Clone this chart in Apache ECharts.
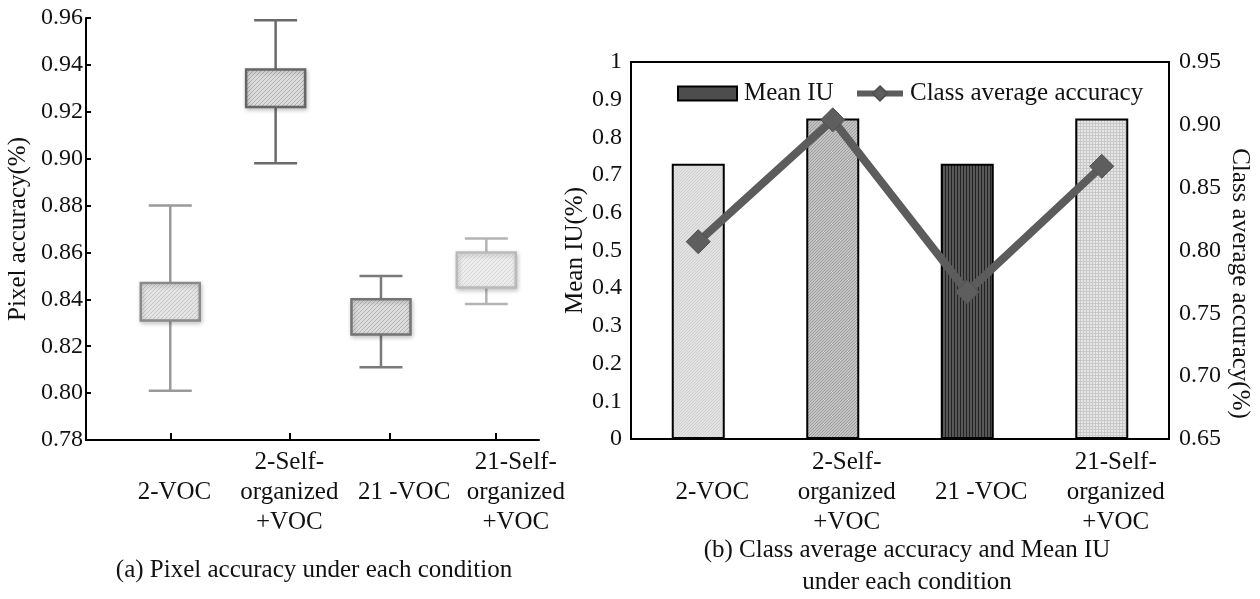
<!DOCTYPE html>
<html>
<head>
<meta charset="utf-8">
<script src="https://cdn.jsdelivr.net/npm/echarts@6/dist/echarts.min.js"></script>
<style>
  html, body { margin: 0; padding: 0; background: #fff; }
  #chart { width: 1260px; height: 599px; }
</style>
</head>
<body>
<div id="chart"></div>
<script>
// shared categories
const conditions = ['2-VOC', '2-Self-\norganized\n+VOC', '21 -VOC', '21-Self-\norganized\n+VOC']

// (a) pixel accuracy box plots
const pixMin = [0.801, 0.898, 0.811, 0.838]
const pixQ1 = [0.831, 0.922, 0.825, 0.845]
const pixQ3 = [0.847, 0.938, 0.840, 0.860]
const pixMax = [0.880, 0.959, 0.850, 0.866]
const pixTicks = [0.78, 0.80, 0.82, 0.84, 0.86, 0.88, 0.90, 0.92, 0.94, 0.96]

// (b) mean IU bars + class average accuracy line
const meanIU = [0.73, 0.85, 0.73, 0.85]
const classAcc = [0.807, 0.904, 0.767, 0.867]
const iuTicks = [0, 0.1, 0.2, 0.3, 0.4, 0.5, 0.6, 0.7, 0.8, 0.9, 1]
const accTicks = [0.65, 0.70, 0.75, 0.80, 0.85, 0.90, 0.95]

const FONT = "'Liberation Serif', 'Times New Roman', serif"

// small canvas tiles used as hatch fills
function pattern(bg, fg, kind, size) {
    const c = document.createElement('canvas')
    c.width = size
    c.height = size
    const g = c.getContext('2d')
    g.fillStyle = bg
    g.fillRect(0, 0, size, size)
    g.fillStyle = fg
    if (kind === 'diag') {
        for (let i = 0; i < size; i++) g.fillRect(i, size - 1 - i, 1, 1)
    } else if (kind === 'vert') {
        g.fillRect(0, 0, 1, size)
    } else if (kind === 'grid') {
        g.fillRect(0, 0, size, 1)
        g.fillRect(0, 0, 1, size)
    }
    return { image: c, repeat: 'repeat' }
}

const boxStyles = [
    { stroke: '#8a8a8a', whisker: '#9a9a9a', fill: pattern('#e4e4e4', '#c6c6c6', 'diag', 4) },
    { stroke: '#666666', whisker: '#6a6a6a', fill: pattern('#dcdcdc', '#b2b2b2', 'diag', 4) },
    { stroke: '#747474', whisker: '#7a7a7a', fill: pattern('#dcdcdc', '#b6b6b6', 'diag', 4) },
    { stroke: '#bababa', whisker: '#b4b4b4', fill: pattern('#ededed', '#d8d8d8', 'diag', 4) },
]

const barFills = [
    pattern('#e2e2e2', '#cfcfcf', 'diag', 3),
    pattern('#c4c4c4', '#9c9c9c', 'diag', 3),
    pattern('#585858', '#222222', 'vert', 3),
    pattern('#e6e6e6', '#c8c8c8', 'grid', 3),
]

// single-line labels get blank lines so all labels share one middle line
const labelText = (s) => (s && s.indexOf('\n') < 0 ? '\n' + s + '\n' : s)

function renderBox(params, api) {
    const i = api.value(0)
    const xc = api.coord([i, api.value(1)])[0]
    const yMin = api.coord([i, api.value(1)])[1]
    const yQ1 = api.coord([i, api.value(2)])[1]
    const yQ3 = api.coord([i, api.value(3)])[1]
    const yMax = api.coord([i, api.value(4)])[1]
    const st = boxStyles[params.dataIndex]
    const boxW = 59
    const capW = 43
    const line = (x1, y1, x2, y2) => ({
        type: 'line',
        shape: { x1, y1, x2, y2 },
        style: { stroke: st.whisker, lineWidth: 2.5 },
    })
    return {
        type: 'group',
        children: [
            line(xc, yMax, xc, yQ3),
            line(xc, yQ1, xc, yMin),
            line(xc - capW / 2, yMax, xc + capW / 2, yMax),
            line(xc - capW / 2, yMin, xc + capW / 2, yMin),
            {
                type: 'rect',
                shape: { x: xc - boxW / 2, y: yQ3, width: boxW, height: yQ1 - yQ3 },
                style: {
                    fill: st.fill,
                    stroke: st.stroke,
                    lineWidth: 2.5,
                    shadowBlur: 4,
                    shadowColor: 'rgba(0,0,0,0.2)',
                    shadowOffsetX: 1,
                    shadowOffsetY: 2,
                },
            },
        ],
    }
}

const chart = echarts.init(document.getElementById('chart'))

const axisLineBlack = { show: true, onZero: false, lineStyle: { color: '#000', width: 2 } }

const option = {
    backgroundColor: '#fff',
    textStyle: { fontFamily: FONT, color: '#111' },
    title: [
        {
            text: '(a) Pixel accuracy under each condition',
            left: 309,
            top: 553,
            textAlign: 'center',
            textStyle: { fontFamily: FONT, fontSize: 25, fontWeight: 'normal', color: '#111' },
        },
        {
            text: '(b) Class average accuracy and Mean IU\nunder each condition',
            left: 902,
            top: 529,
            textAlign: 'center',
            textStyle: { fontFamily: FONT, fontSize: 25, fontWeight: 'normal', color: '#111', lineHeight: 32 },
        },
    ],
    legend: [
        {
            data: ['Mean IU'],
            left: 672,
            top: 76,
            icon: 'rect',
            itemWidth: 59,
            itemHeight: 14,
            selectedMode: false,
            textStyle: { fontFamily: FONT, fontSize: 25, color: '#111', padding: [0, 0, 0, 2] },
        },
        {
            data: ['Class average accuracy'],
            left: 849,
            top: 76,
            itemWidth: 46,
            itemHeight: 18,
            selectedMode: false,
            lineStyle: { width: 6 },
            textStyle: { fontFamily: FONT, fontSize: 25, color: '#111', padding: [0, 0, 0, 2] },
        },
    ],
    grid: [
        { left: 86, top: 18, width: 453, height: 422 },
        { left: 631, top: 62, width: 538, height: 377, show: true, borderColor: '#000', borderWidth: 2 },
    ],
    xAxis: [
        {
            type: 'value',
            gridIndex: 0,
            min: -0.8,
            max: 3.5,
            axisLine: axisLineBlack,
            splitLine: { show: false },
            axisTick: {
                inside: true,
                length: 7,
                lineStyle: { color: '#000', width: 2 },
                customValues: [0, 1.13, 2.08, 3.09],
            },
            axisLabel: {
                customValues: [0.04, 1.13, 2.22, 3.28],
                formatter: (v) => labelText(conditions[Math.round(v)]),
                fontFamily: FONT,
                fontSize: 25,
                color: '#111',
                lineHeight: 30,
                margin: 7,
            },
        },
        {
            type: 'category',
            gridIndex: 1,
            data: conditions,
            axisLine: axisLineBlack,
            axisTick: { show: false },
            axisLabel: {
                formatter: labelText,
                fontFamily: FONT,
                fontSize: 25,
                color: '#111',
                lineHeight: 30,
                margin: 8,
                padding: [0, 0, 0, 28],
                interval: 0,
            },
        },
    ],
    yAxis: [
        {
            type: 'value',
            gridIndex: 0,
            min: pixTicks[0],
            max: pixTicks[pixTicks.length - 1],
            interval: 0.02,
            name: 'Pixel accuracy(%)',
            nameLocation: 'middle',
            nameGap: 55,
            nameTextStyle: { fontFamily: FONT, fontSize: 25, color: '#111' },
            axisLine: axisLineBlack,
            axisTick: { inside: true, length: 5, lineStyle: { color: '#000', width: 2 } },
            splitLine: { show: false },
            axisLabel: {
                formatter: (v) => v.toFixed(2),
                fontFamily: FONT,
                fontSize: 24,
                color: '#111',
                margin: 3,
            },
        },
        {
            type: 'value',
            gridIndex: 1,
            position: 'left',
            min: iuTicks[0],
            max: iuTicks[iuTicks.length - 1],
            interval: 0.1,
            name: 'Mean IU(%)',
            nameLocation: 'middle',
            nameGap: 43,
            nameTextStyle: { fontFamily: FONT, fontSize: 25, color: '#111' },
            axisLine: axisLineBlack,
            axisTick: { inside: true, length: 7, lineStyle: { color: '#000', width: 2 } },
            splitLine: { show: false },
            axisLabel: {
                formatter: (v) => (v === 0 || v === 1 ? String(v) : v.toFixed(1)),
                fontFamily: FONT,
                fontSize: 24,
                color: '#111',
                margin: 9,
            },
        },
        {
            type: 'value',
            gridIndex: 1,
            position: 'right',
            min: accTicks[0],
            max: accTicks[accTicks.length - 1],
            interval: 0.05,
            name: 'Class average accuracy(%)',
            nameLocation: 'middle',
            nameRotate: -90,
            nameGap: 58,
            nameTextStyle: { fontFamily: FONT, fontSize: 25, color: '#111', padding: [0, 0, 0, 66] },
            axisLine: axisLineBlack,
            axisTick: { inside: true, length: 7, lineStyle: { color: '#000', width: 2 } },
            splitLine: { show: false },
            axisLabel: {
                formatter: (v) => v.toFixed(2),
                fontFamily: FONT,
                fontSize: 24,
                color: '#111',
                margin: 10,
            },
        },
    ],
    series: [
        {
            name: 'Pixel accuracy',
            type: 'custom',
            xAxisIndex: 0,
            yAxisIndex: 0,
            renderItem: renderBox,
            encode: { x: 0, y: [1, 4] },
            data: conditions.map((c, i) => [i, pixMin[i], pixQ1[i], pixQ3[i], pixMax[i]]),
        },
        {
            name: 'Mean IU',
            type: 'bar',
            xAxisIndex: 1,
            yAxisIndex: 1,
            barWidth: 53,
            itemStyle: { color: '#4d4d4d', borderColor: '#000', borderWidth: 2 },
            data: meanIU.map((v, i) => ({ value: v, itemStyle: { color: barFills[i] } })),
        },
        {
            name: 'Class average accuracy',
            type: 'line',
            xAxisIndex: 1,
            yAxisIndex: 2,
            data: classAcc,
            symbol: 'diamond',
            symbolSize: 24,
            lineStyle: { color: '#5c5c5c', width: 8 },
            itemStyle: { color: '#5e5e5e', borderColor: '#505050', borderWidth: 1 },
            z: 5,
        },
    ],
}

chart.setOption(option)
</script>
</body>
</html>
